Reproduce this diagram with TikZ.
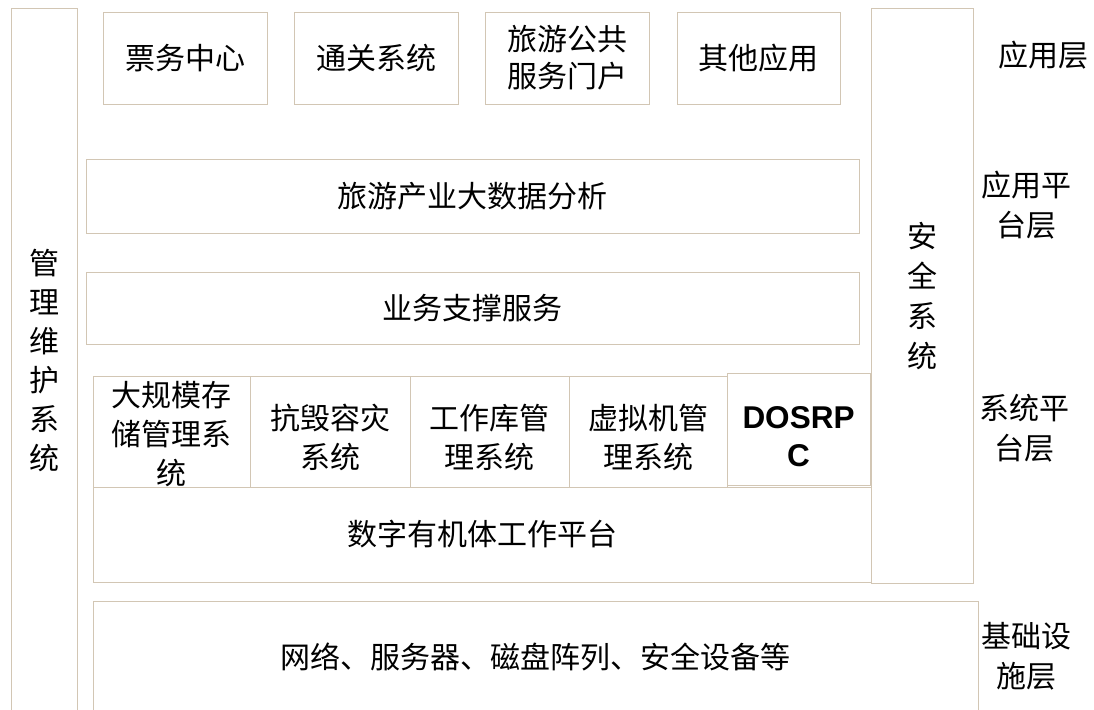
\documentclass[tikz,border=0pt]{standalone}
\usepackage{fontspec}
\setmainfont{Noto Sans CJK SC}
\newfontfamily\latinbold{Liberation Sans}
\definecolor{edge}{HTML}{D2C6B4}
\tikzset{
  x=1pt,y=-1pt,
  box/.style={draw=edge,line width=0.9pt,fill=white,inner sep=0pt,align=center},
  lbl/.style={inner sep=0pt,align=center,font=\fontsize{30}{40}\selectfont},
}
\newcommand{\bx}[6][]{%
  \node[box,#1,minimum width={#4-#2},minimum height={#5-#3}] (#6) at ({(#2+#4)/2},{(#3+#5)/2}) {};}
\begin{document}
\begin{tikzpicture}
\useasboundingbox[fill=white] (0,0) rectangle (1094,709);
% left management box
\bx{11}{8}{77}{715}{mgmt}
\node[lbl,font=\fontsize{30}{39}\selectfont] (mgmtt) at (44,360) {管\\理\\维\\护\\系\\统};
% security box
\bx{871}{8}{973}{583}{sec}
\node[lbl,font=\fontsize{30}{40}\selectfont] (sect) at (922,296) {安\\全\\系\\统};
% application layer
\bx{103}{12}{267}{104}{a1}
\node[lbl] (a1t) at (a1) {票务中心};
\bx{294}{12}{458}{104}{a2}
\node[lbl] (a2t) at (a2) {通关系统};
\bx{485}{12}{649}{104}{a3}
\node[lbl,font=\fontsize{30}{37}\selectfont] (a3t) at (a3) {旅游公共\\服务门户};
\bx{677}{12}{840}{104}{a4}
\node[lbl] (a4t) at (a4) {其他应用};
% platform
\bx{86}{159}{859}{233}{bigdata}
\node[lbl] (bigdatat) at (bigdata) {旅游产业大数据分析};
\bx{86}{272}{859}{344}{biz}
\node[lbl] (bizt) at (biz) {业务支撑服务};
% system platform
\bx{93}{487}{871}{582}{dop}
\node[lbl] (dopt) at (dop) {数字有机体工作平台};
\bx{93}{376}{250}{487}{s1}
\node[lbl,font=\fontsize{30}{39}\selectfont] (s1t) at ([yshift=-3]s1) {大规模存\\储管理系\\统};
\bx{250}{376}{410}{487}{s2}
\node[lbl,font=\fontsize{30}{39}\selectfont] (s2t) at ([yshift=-6]s2) {抗毁容灾\\系统};
\bx{410}{376}{569}{487}{s3}
\node[lbl,font=\fontsize{30}{39}\selectfont] (s3t) at ([yshift=-6]s3) {工作库管\\理系统};
\bx{569}{376}{727}{487}{s4}
\node[lbl,font=\fontsize{30}{39}\selectfont] (s4t) at ([yshift=-6]s4) {虚拟机管\\理系统};
\bx{727}{373}{870}{485}{s5}
\node[lbl,font=\latinbold\bfseries\fontsize{31.5}{38}\selectfont] (s5t) at ([yshift=-8]s5) {DOSRP\\C};
% infrastructure
\bx{93}{601}{978}{715}{infra}
\node[lbl] (infrat) at (535,657) {网络、服务器、磁盘阵列、安全设备等};
% layer labels
\node[lbl] (l1) at (1043,55) {应用层};
\node[lbl] (l2) at (1026,205) {应用平\\台层};
\node[lbl] (l3) at (1024,428) {系统平\\台层};
\node[lbl] (l4) at (1026,656) {基础设\\施层};
\end{tikzpicture}
\end{document}
